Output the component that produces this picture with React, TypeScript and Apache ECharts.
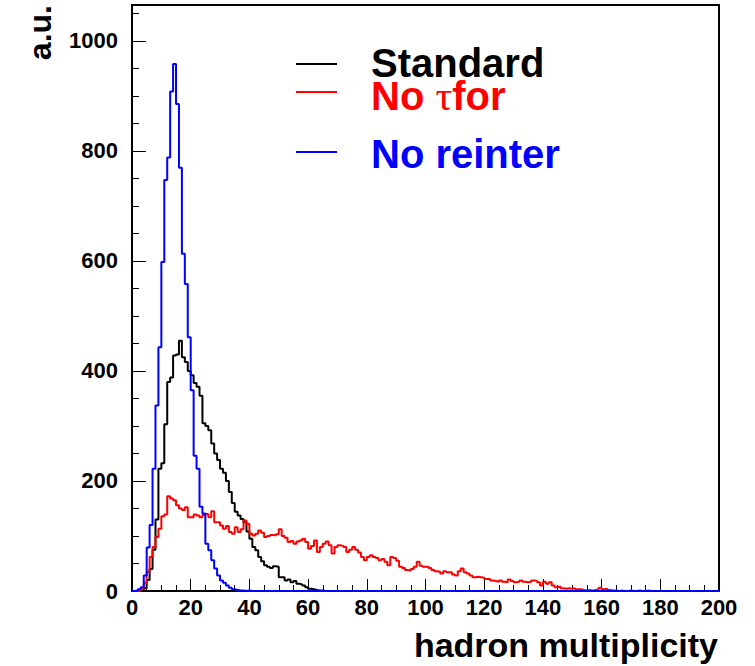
import React, { useEffect, useRef } from "react";
import * as echarts from "echarts";

// Bin edges: bin i covers [i, i+1], 200 bins from 0 to 200
const standard = [
  0, 0, 0, 1, 5, 20, 40, 75, 130, 222, 232, 303, 380, 388, 428, 430, 455, 425, 416, 400,
  392, 378, 371, 355, 305, 300, 292, 268, 250, 238, 222, 215, 200, 180, 160, 144, 137, 131, 125, 108,
  95, 80, 74, 62, 54, 47, 44, 42, 45, 44, 25, 25, 19, 21, 16, 18, 13, 12, 10, 7,
  4, 3, 2, 1, 1, 0, 0, 0, 0, 0, 0, 0, 0, 0, 0, 0, 0, 0, 0, 0,
  0, 0, 0, 0, 0, 0, 0, 0, 0, 0, 0, 0, 0, 0, 0, 0, 0, 0, 0, 0,
  0, 0, 0, 0, 0, 0, 0, 0, 0, 0, 0, 0, 0, 0, 0, 0, 0, 0, 0, 0,
  0, 0, 0, 0, 0, 0, 0, 0, 0, 0, 0, 0, 0, 0, 0, 0, 0, 0, 0, 0,
  0, 0, 0, 0, 0, 0, 0, 0, 0, 0, 0, 0, 0, 0, 0, 0, 0, 0, 0, 0,
  0, 0, 0, 0, 0, 0, 0, 0, 0, 0, 0, 0, 0, 0, 0, 0, 0, 0, 0, 0,
  0, 0, 0, 0, 0, 0, 0, 0, 0, 0, 0, 0, 0, 0, 0, 0, 0, 0, 0, 0,
];

const noTauFor = [
  0, 0, 1, 5, 14, 35, 62, 80, 98, 113, 136, 139, 172, 168, 165, 156, 150, 147, 152, 134,
  134, 139, 137, 134, 138, 140, 134, 145, 125, 125, 119, 113, 118, 107, 104, 116, 107, 112, 128, 122,
  104, 101, 104, 110, 106, 98, 100, 102, 101, 103, 112, 100, 97, 89, 91, 86, 90, 92, 95, 89,
  77, 82, 92, 71, 80, 86, 90, 83, 68, 80, 83, 82, 80, 71, 75, 80, 75, 70, 62, 56,
  62, 65, 62, 60, 56, 58, 53, 47, 62, 60, 55, 44, 42, 38, 37, 40, 44, 53, 46, 44,
  44, 42, 38, 36, 35, 32, 36, 34, 34, 30, 28, 36, 41, 34, 32, 28, 25, 26, 25, 24,
  22, 22, 19, 18, 17, 19, 17, 16, 21, 18, 16, 17, 19, 17, 16, 17, 19, 18, 16, 10,
  17, 13, 16, 10, 7, 8, 5, 4, 5, 4, 5, 3, 3, 2, 1, 2, 1, 2, 3, 6,
  3, 4, 2, 1, 1, 0, 1, 0, 0, 1, 0, 0, 1, 0, 0, 1, 0, 0, 0, 0,
  0, 0, 0, 0, 0, 0, 0, 0, 0, 0, 0, 0, 0, 0, 0, 0, 0, 0, 0, 0,
];

const noReinter = [
  0, 1, 3, 7, 28, 79, 120, 222, 337, 443, 598, 747, 788, 908, 958, 885, 769, 613, 558, 461,
  365, 246, 222, 153, 141, 86, 74, 56, 41, 28, 19, 15, 10, 6, 3, 2, 1, 1, 0, 1,
  0, 0, 0, 0, 0, 0, 0, 0, 0, 0, 0, 0, 0, 0, 0, 0, 0, 0, 0, 0,
  0, 0, 0, 0, 0, 0, 0, 0, 0, 0, 0, 0, 0, 0, 0, 0, 0, 0, 0, 0,
  0, 0, 0, 0, 0, 0, 0, 0, 0, 0, 0, 0, 0, 0, 0, 0, 0, 0, 0, 0,
  0, 0, 0, 0, 0, 0, 0, 0, 0, 0, 0, 0, 0, 0, 0, 0, 0, 0, 0, 0,
  0, 0, 0, 0, 0, 0, 0, 0, 0, 0, 0, 0, 0, 0, 0, 0, 0, 0, 0, 0,
  0, 0, 0, 0, 0, 0, 0, 0, 0, 0, 0, 0, 0, 0, 0, 0, 0, 0, 0, 0,
  0, 0, 0, 0, 0, 0, 0, 0, 0, 0, 0, 0, 0, 0, 0, 0, 0, 0, 0, 0,
  0, 0, 0, 0, 0, 0, 0, 0, 0, 0, 0, 0, 0, 0, 0, 0, 0, 0, 0, 0,
];

const binWidth = 1;
const xMin = 0;
const xMax = 200;
const yMax = 1065;

const FONT = "'Liberation Sans', Arial, Helvetica, sans-serif";

function toSteps(values: number[]): [number, number][] {
  const pts: [number, number][] = values.map((v, i) => [xMin + i * binWidth, v]);
  pts.push([xMin + values.length * binWidth, values[values.length - 1]]);
  return pts;
}

export default function App() {
  const ref = useRef<HTMLDivElement>(null);
  useEffect(() => {
    if (!ref.current) return;
    const chart = echarts.init(ref.current, undefined, { renderer: "svg" });
    const mkSeries = (name: string, values: number[], color: string) => ({
      name,
      type: "line",
      step: "end",
      symbol: "none",
      data: toSteps(values),
      lineStyle: { color, width: 2 },
      itemStyle: { color },
      z: 3,
    });
    chart.setOption({
      animation: false,
      backgroundColor: "#ffffff",
      grid: {
        left: 132,
        right: 36,
        top: 5,
        bottom: 75,
        show: true,
        borderColor: "#000",
        borderWidth: 2,
        backgroundColor: "transparent",
      },
      xAxis: {
        type: "value",
        min: xMin,
        max: xMax,
        interval: 20,
        axisLine: { show: true, lineStyle: { color: "#000", width: 2 } },
        axisTick: { show: true, inside: true, length: 12, lineStyle: { color: "#000", width: 1 } },
        minorTick: { show: true, splitNumber: 4, length: 6, lineStyle: { color: "#000", width: 1 } },
        splitLine: { show: false },
        axisLabel: {
          color: "#000",
          fontFamily: FONT,
          fontWeight: "bold",
          fontSize: 22,
          margin: 5,
          formatter: (v: number) => String(v),
        },
      },
      yAxis: {
        type: "value",
        min: 0,
        max: yMax,
        interval: 200,
        axisLine: { show: true, lineStyle: { color: "#000", width: 2 } },
        axisTick: { show: true, inside: true, length: 14, lineStyle: { color: "#000", width: 1 } },
        minorTick: { show: true, splitNumber: 4, length: 7, lineStyle: { color: "#000", width: 1 } },
        splitLine: { show: false },
        axisLabel: {
          color: "#000",
          fontFamily: FONT,
          fontWeight: "bold",
          fontSize: 22,
          margin: 14,
          showMaxLabel: false,
          formatter: (v: number) => String(v),
        },
      },
      series: [
        mkSeries("Standard", standard, "#000000"),
        mkSeries("No τfor", noTauFor, "#ff0000"),
        mkSeries("No reinter", noReinter, "#0000ff"),
      ],
      graphic: [
        { type: "line", shape: { x1: 296, y1: 64, x2: 337, y2: 64 }, style: { stroke: "#000", lineWidth: 2 } },
        { type: "line", shape: { x1: 296, y1: 92, x2: 337, y2: 92 }, style: { stroke: "#ff0000", lineWidth: 2 } },
        { type: "line", shape: { x1: 296, y1: 152, x2: 337, y2: 152 }, style: { stroke: "#0000ff", lineWidth: 2 } },
        {
          type: "text",
          x: 371,
          y: 63,
          style: {
            text: "Standard",
            fill: "#000",
            font: `bold 40px ${FONT}`,
            lineHeight: 28,
            align: "left",
            verticalAlign: "middle",
          },
        },
        {
          type: "text",
          x: 371,
          y: 96,
          style: {
            text: "{a|No }{t|τ}{a|for}",
            align: "left",
            verticalAlign: "middle",
            rich: {
              a: { fill: "#ff0000", fontFamily: FONT, fontWeight: "bold", fontSize: 40, lineHeight: 28 },
              t: { fill: "#ff0000", fontFamily: "'Liberation Serif', 'DejaVu Serif', serif", fontWeight: "normal", fontSize: 42, lineHeight: 28 },
            },
          },
        },
        {
          type: "text",
          x: 371,
          y: 154,
          style: {
            text: "No reinter",
            fill: "#0000ff",
            font: `bold 40px ${FONT}`,
            lineHeight: 28,
            align: "left",
            verticalAlign: "middle",
          },
        },
        {
          type: "text",
          x: 718,
          y: 645,
          style: {
            text: "hadron multiplicity",
            fill: "#000",
            font: `bold 34px ${FONT}`,
            align: "right",
            verticalAlign: "middle",
          },
        },
        {
          type: "text",
          x: 40,
          y: 5,
          rotation: Math.PI / 2,
          style: {
            text: "a.u.",
            fill: "#000",
            font: `bold 32px ${FONT}`,
            align: "right",
            verticalAlign: "middle",
          },
        },
      ],
    });
    return () => chart.dispose();
  }, []);
  return (
    <div
      ref={ref}
      style={{ position: "fixed", left: 0, top: 0, width: 755, height: 666, background: "#fff" }}
    />
  );
}
